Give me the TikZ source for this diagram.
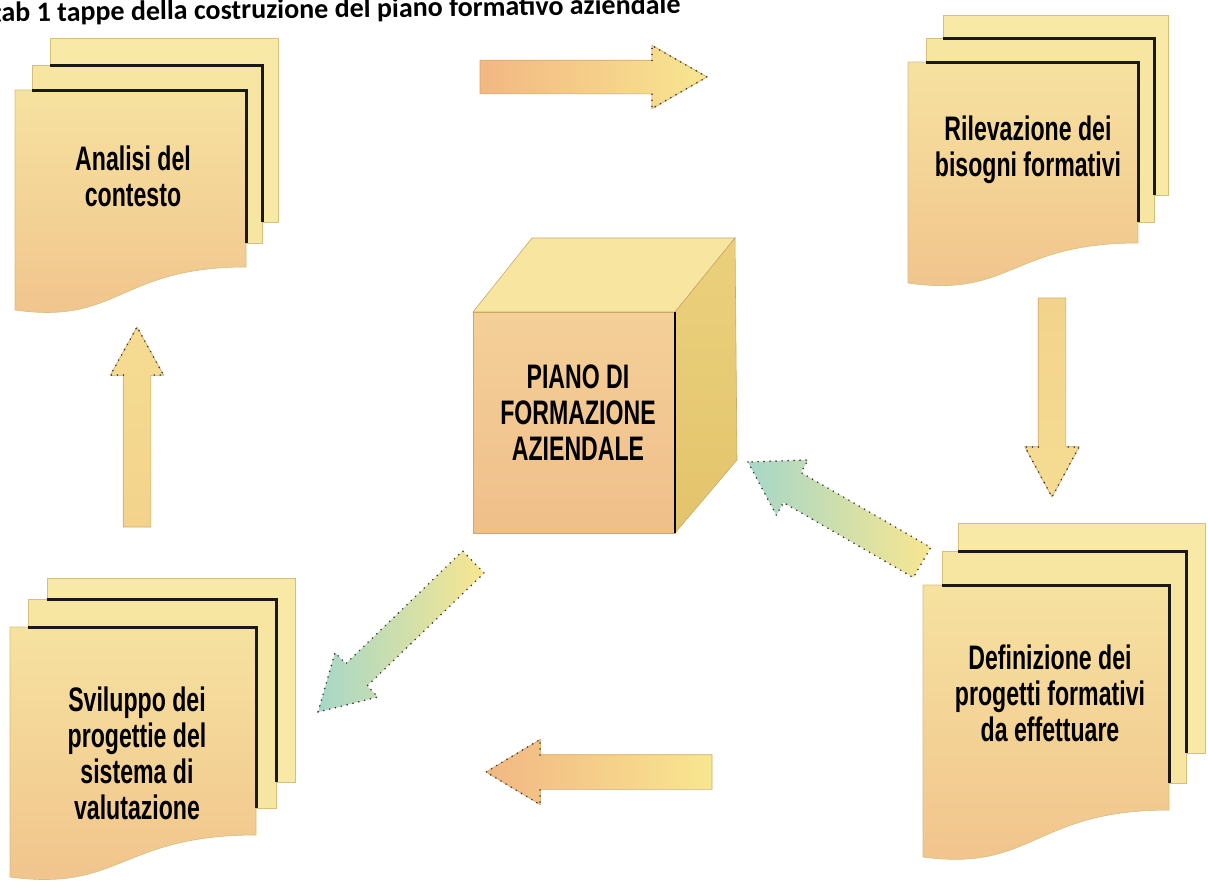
\documentclass[tikz,border=0pt]{standalone}
\usepackage{fontspec}
\setmainfont{Liberation Sans}
\newfontfamily\condfont[FakeStretch=0.68]{Liberation Sans}
\newfontfamily\titlefont{Carlito}
\usetikzlibrary{shapes.arrows,calc}
\definecolor{backfill}{HTML}{F8E9A6}
\definecolor{midfill}{HTML}{F7E5A2}
\definecolor{sheetedge}{HTML}{D8BE7C}
\definecolor{frontTop}{HTML}{F6E2A0}
\definecolor{frontBot}{HTML}{F1C38C}
\definecolor{cubeTop}{HTML}{F8E6A0}
\definecolor{cubeFrontTop}{HTML}{F4CF98}
\definecolor{cubeFrontBot}{HTML}{F0BF8A}
\definecolor{cubeRightA}{HTML}{EBD07C}
\definecolor{cubeRightB}{HTML}{E3C46C}
\definecolor{cubeEdge}{HTML}{C9A868}
\definecolor{arOrange}{HTML}{F2B783}
\definecolor{arYellow}{HTML}{F8E690}
\definecolor{arGold}{HTML}{F3D38C}
\definecolor{arGoldB}{HTML}{F5DC92}
\definecolor{arTeal}{HTML}{A6D7C8}
\definecolor{arEdge}{HTML}{D2A968}
\definecolor{dotc}{HTML}{3A3A3A}
\newcommand\frontsheet[5]{%
  \pgfmathsetmacro\fsCA{#1+0.45*(#3-#1)}%
  \pgfmathsetmacro\fsCB{#5+15}%
  \shade[frontsty] (#1,#2) -- (#3,#2) -- (#3,#4) .. controls (\fsCA,#4) and (\fsCA,\fsCB) .. (#1,#5) -- cycle;}
\tikzset{
  backsty/.style={fill=backfill, draw=sheetedge, line width=0.6pt},
  midsty/.style={fill=midfill, draw=sheetedge, line width=0.6pt},
  frontsty/.style={top color=frontTop, bottom color=frontBot, draw=sheetedge, line width=0.6pt},
  blackedge/.style={draw=black!90, line width=3pt},
  lbl/.style={align=center, inner sep=0pt, text=black, font=\condfont\bfseries\fontsize{34}{36}\selectfont},
  blockarrow/.style={single arrow, inner xsep=0pt, outer sep=0pt, anchor=tip},
  dots/.style={draw=dotc, line width=1.8pt, dash pattern=on 0pt off 6pt, line cap=round},
}
\begin{document}
\begin{tikzpicture}[x=1pt,y=-1pt]
\useasboundingbox (0,0) rectangle (1208,887);
\fill[white] (0,0) rectangle (1208,887);
% title
\node[anchor=base west, rotate=0.7, inner sep=0pt, font=\titlefont\bfseries\fontsize{28}{30}\selectfont] (title) at (-8,22) {tab 1 tappe della costruzione del piano formativo aziendale};
% ---- Analisi stack
\draw[backsty] (50,38) rectangle (278,222);
\draw[midsty] (32,65) rectangle (262,243);
\draw[blackedge] (50,65) -- (262,65) -- (262,222);
\frontsheet{15}{90}{246}{267}{310}
\draw[blackedge] (32,90) -- (246,90) -- (246,243);
\node[lbl] (analisi) at (133,176) {Analisi del\\contesto};
% ---- Rilevazione stack
\draw[backsty] (943,15) rectangle (1168,195);
\draw[midsty] (926,38) rectangle (1154,222);
\draw[blackedge] (943,38) -- (1154,38) -- (1154,195);
\frontsheet{908}{62}{1138}{243}{283}
\draw[blackedge] (926,62) -- (1138,62) -- (1138,222);
\node[lbl] (rilevazione) at (1028,150) {Rilevazione dei\\bisogni formativi};
% ---- Definizione stack
\draw[backsty] (958,523) rectangle (1205,753);
\draw[midsty] (942,551) rectangle (1186,783);
\draw[blackedge] (958,551) -- (1186,551) -- (1186,753);
\frontsheet{923}{585}{1169}{810}{857}
\draw[blackedge] (942,585) -- (1169,585) -- (1169,783);
\node[lbl] (definizione) at (1050,693) {Definizione dei\\progetti formativi\\da effettuare};
% ---- Sviluppo stack
\draw[backsty] (47,578) rectangle (295,782);
\draw[midsty] (28,599) rectangle (276,808);
\draw[blackedge] (47,599) -- (276,599) -- (276,782);
\frontsheet{10}{627}{256}{835}{877}
\draw[blackedge] (28,627) -- (256,627) -- (256,808);
\node[lbl] (sviluppo) at (137,753) {Sviluppo dei\\progettie del\\sistema di\\valutazione};
% ---- cube
\fill[cubeTop, draw=cubeEdge, line width=0.6pt] (473,312) -- (532,238) -- (735,238) -- (675,312) -- cycle;
\shade[top color=cubeRightA, bottom color=cubeRightB, draw=cubeEdge, line width=0.6pt] (675,312) -- (735,238) -- (737,460) -- (675,533) -- cycle;
\shade[top color=cubeFrontTop, bottom color=cubeFrontBot, draw=cubeEdge, line width=0.6pt] (473,312) rectangle (675,533);
\draw[black, line width=2.5pt] (675,312) -- (675,533);
\node[lbl] (cube) at (578,413) {PIANO DI\\FORMAZIONE\\AZIENDALE};
% ---- arrows
\node[blockarrow, inner ysep=16.5pt, minimum height=227pt, minimum width=63pt, single arrow head extend=15pt, single arrow tip angle=60,
      left color=arOrange, right color=arYellow, draw=arEdge, line width=0.6pt] (a1) at (707,77) {};
\draw[dots] ($(a1.tip)+(-55,-16.5)$) -- ($(a1.tip)+(-55,-31.5)$) -- (a1.tip) -- ($(a1.tip)+(-55,31.5)$) -- ($(a1.tip)+(-55,16.5)$);
\node[blockarrow, rotate=-90, inner ysep=13.5pt, minimum height=199pt, minimum width=54pt, single arrow head extend=13.5pt, single arrow tip angle=57,
      top color=arGold, bottom color=arGoldB, draw=arEdge, line width=0.6pt] (a2) at (1052,497) {};
\draw[dots] ($(a2.tip)+(-13.5,-50)$) -- ($(a2.tip)+(-27,-50)$) -- (a2.tip) -- ($(a2.tip)+(27,-50)$) -- ($(a2.tip)+(13.5,-50)$);
\node[blockarrow, rotate=90, inner ysep=13.5pt, minimum height=200pt, minimum width=53pt, single arrow head extend=13pt, single arrow tip angle=58,
      top color=arGoldB, bottom color=arGold, draw=arEdge, line width=0.6pt] (a3) at (137,327) {};
\draw[dots] ($(a3.tip)+(-13.5,48)$) -- ($(a3.tip)+(-26.5,48)$) -- (a3.tip) -- ($(a3.tip)+(26.5,48)$) -- ($(a3.tip)+(13.5,48)$);
\node[blockarrow, rotate=180, inner ysep=17pt, minimum height=226pt, minimum width=65pt, single arrow head extend=15.5pt, single arrow tip angle=62,
      left color=arOrange, right color=arYellow, draw=arEdge, line width=0.6pt] (a4) at (486,772) {};
\draw[dots] ($(a4.tip)+(54,-17)$) -- ($(a4.tip)+(54,-32.5)$) -- (a4.tip) -- ($(a4.tip)+(54,32.5)$) -- ($(a4.tip)+(54,17)$);
\node[blockarrow, rotate=-136, inner ysep=14.5pt, minimum height=216pt, minimum width=60pt, single arrow head extend=15.5pt, single arrow tip angle=60,
      left color=arTeal, right color=arYellow, dots] (a5) at (318,712) {};
\node[blockarrow, rotate=150, inner ysep=16.5pt, minimum height=201pt, minimum width=62pt, single arrow head extend=14.5pt, single arrow tip angle=64,
      left color=arTeal, right color=arYellow, dots] (a6) at (748,462) {};
\end{tikzpicture}
\end{document}
